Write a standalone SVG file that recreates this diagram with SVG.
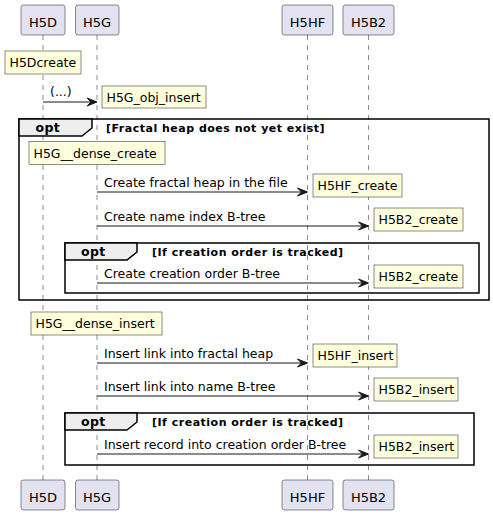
<svg xmlns="http://www.w3.org/2000/svg" width="493" height="515" viewBox="0 0 493 515">
<style>
.bg{fill:#FFFFFF}
.life{stroke:#181818;stroke-width:0.5;stroke-dasharray:5,5;fill:none}
.part rect{fill:#E2E2F0;stroke:#181818;stroke-width:0.5}
.part text{font-family:"DejaVu Sans",sans-serif;font-size:13px;fill:#000000;text-anchor:middle}
.note rect{fill:#FEFFDD;stroke:#181818;stroke-width:0.5}
.note text{font-family:"DejaVu Sans",sans-serif;font-size:12.5px;fill:#000000}
.msg line{stroke:#181818;stroke-width:1}
.msg polygon{fill:#181818;stroke:#181818;stroke-width:1}
.msg text{font-family:"DejaVu Sans",sans-serif;font-size:12.5px;fill:#000000}
.frame rect{fill:none;stroke:#000000;stroke-width:1.5}
.frame path{fill:#EEEEEE;stroke:#000000;stroke-width:1.5}
.frame .kw{font-family:"DejaVu Sans",sans-serif;font-size:12.5px;font-weight:bold;fill:#000000;letter-spacing:0.3px}
.frame .cond{font-family:"DejaVu Sans",sans-serif;font-size:11px;font-weight:bold;fill:#000000;letter-spacing:0.5px}
</style>
<rect class="bg" x="0" y="0" width="493" height="515"/>
<g id="lifelines">
<line class="life" x1="43" y1="35" x2="43" y2="480"/>
<line class="life" x1="97" y1="35" x2="97" y2="480"/>
<line class="life" x1="307.5" y1="35" x2="307.5" y2="480"/>
<line class="life" x1="368.5" y1="35" x2="368.5" y2="480"/>
</g>
<g id="participant-H5D" class="part">
<rect x="21" y="5" width="44" height="30" rx="2.5"/>
<text x="43" y="27">H5D</text>
<rect x="21" y="480" width="44" height="30" rx="2.5"/>
<text x="43" y="502">H5D</text>
</g>
<g id="participant-H5G" class="part">
<rect x="75.5" y="5" width="43.5" height="30" rx="2.5"/>
<text x="97" y="27">H5G</text>
<rect x="75.5" y="480" width="43.5" height="30" rx="2.5"/>
<text x="97" y="502">H5G</text>
</g>
<g id="participant-H5HF" class="part">
<rect x="282" y="5" width="51" height="30" rx="2.5"/>
<text x="307.5" y="27">H5HF</text>
<rect x="282" y="480" width="51" height="30" rx="2.5"/>
<text x="307.5" y="502">H5HF</text>
</g>
<g id="participant-H5B2" class="part">
<rect x="343" y="5" width="51" height="30" rx="2.5"/>
<text x="368.5" y="27">H5B2</text>
<rect x="343" y="480" width="51" height="30" rx="2.5"/>
<text x="368.5" y="502">H5B2</text>
</g>
<g id="frame-opt1" class="frame">
<rect x="19" y="119" width="470" height="181"/>
<path d="M19,119 L92,119 L92,128 L82,136 L19,136 Z"/>
<text class="kw" x="35.5" y="132">opt</text>
<text class="cond" x="106" y="132">[Fractal heap does not yet exist]</text>
</g>
<g id="frame-opt2" class="frame">
<rect x="65" y="243" width="414" height="50"/>
<path d="M65,243 L137,243 L137,252 L127,260 L65,260 Z"/>
<text class="kw" x="81" y="256">opt</text>
<text class="cond" x="152" y="256">[If creation order is tracked]</text>
</g>
<g id="frame-opt3" class="frame">
<rect x="65" y="413" width="409" height="52"/>
<path d="M65,413 L137,413 L137,422 L127,430 L65,430 Z"/>
<text class="kw" x="81" y="426">opt</text>
<text class="cond" x="152" y="426">[If creation order is tracked]</text>
</g>
<g id="connectors">
<g class="msg">
<line x1="43" y1="102" x2="96" y2="102"/>
<polygon points="87,98 97,102 87,106 91,102"/>
<text x="50" y="96">(...)</text>
</g>
<g class="msg">
<line x1="97" y1="192" x2="306.5" y2="192"/>
<polygon points="297.5,188 307.5,192 297.5,196 301.5,192"/>
<text x="104" y="187">Create fractal heap in the file</text>
</g>
<g class="msg">
<line x1="97" y1="226" x2="367.5" y2="226"/>
<polygon points="358.5,222 368.5,226 358.5,230 362.5,226"/>
<text x="104" y="221">Create name index B-tree</text>
</g>
<g class="msg">
<line x1="97" y1="283" x2="367.5" y2="283"/>
<polygon points="358.5,279 368.5,283 358.5,287 362.5,283"/>
<text x="104" y="278">Create creation order B-tree</text>
</g>
<g class="msg">
<line x1="97" y1="363" x2="306.5" y2="363"/>
<polygon points="297.5,359 307.5,363 297.5,367 301.5,363"/>
<text x="104" y="358">Insert link into fractal heap</text>
</g>
<g class="msg">
<line x1="97" y1="396" x2="367.5" y2="396"/>
<polygon points="358.5,392 368.5,396 358.5,400 362.5,396"/>
<text x="104" y="391">Insert link into name B-tree</text>
</g>
<g class="msg">
<line x1="97" y1="454" x2="367.5" y2="454"/>
<polygon points="358.5,450 368.5,454 358.5,458 362.5,454"/>
<text x="104" y="449">Insert record into creation order B-tree</text>
</g>
</g>
<g id="note-H5Dcreate" class="note">
<rect x="5" y="51" width="76" height="23"/>
<text x="9.5" y="67">H5Dcreate</text>
</g>
<g id="note-H5G_obj_insert" class="note">
<rect x="102" y="86" width="104" height="22"/>
<text x="106.5" y="102">H5G_obj_insert</text>
</g>
<g id="note-H5G__dense_create" class="note">
<rect x="29" y="141.5" width="136" height="23"/>
<text x="33.5" y="157.5">H5G__dense_create</text>
</g>
<g id="note-H5HF_create" class="note">
<rect x="313" y="174" width="89" height="23"/>
<text x="317.5" y="190">H5HF_create</text>
</g>
<g id="note-H5B2_create-1" class="note">
<rect x="374" y="208" width="89" height="23"/>
<text x="378.5" y="224">H5B2_create</text>
</g>
<g id="note-H5B2_create-2" class="note">
<rect x="374" y="265" width="89" height="23"/>
<text x="378.5" y="281">H5B2_create</text>
</g>
<g id="note-H5G__dense_insert" class="note">
<rect x="31" y="312" width="131" height="23"/>
<text x="35.5" y="328">H5G__dense_insert</text>
</g>
<g id="note-H5HF_insert" class="note">
<rect x="313" y="344" width="84" height="23"/>
<text x="317.5" y="360">H5HF_insert</text>
</g>
<g id="note-H5B2_insert-1" class="note">
<rect x="374" y="378" width="84" height="23"/>
<text x="378.5" y="394">H5B2_insert</text>
</g>
<g id="note-H5B2_insert-2" class="note">
<rect x="374" y="435" width="84" height="23"/>
<text x="378.5" y="451">H5B2_insert</text>
</g>
</svg>
